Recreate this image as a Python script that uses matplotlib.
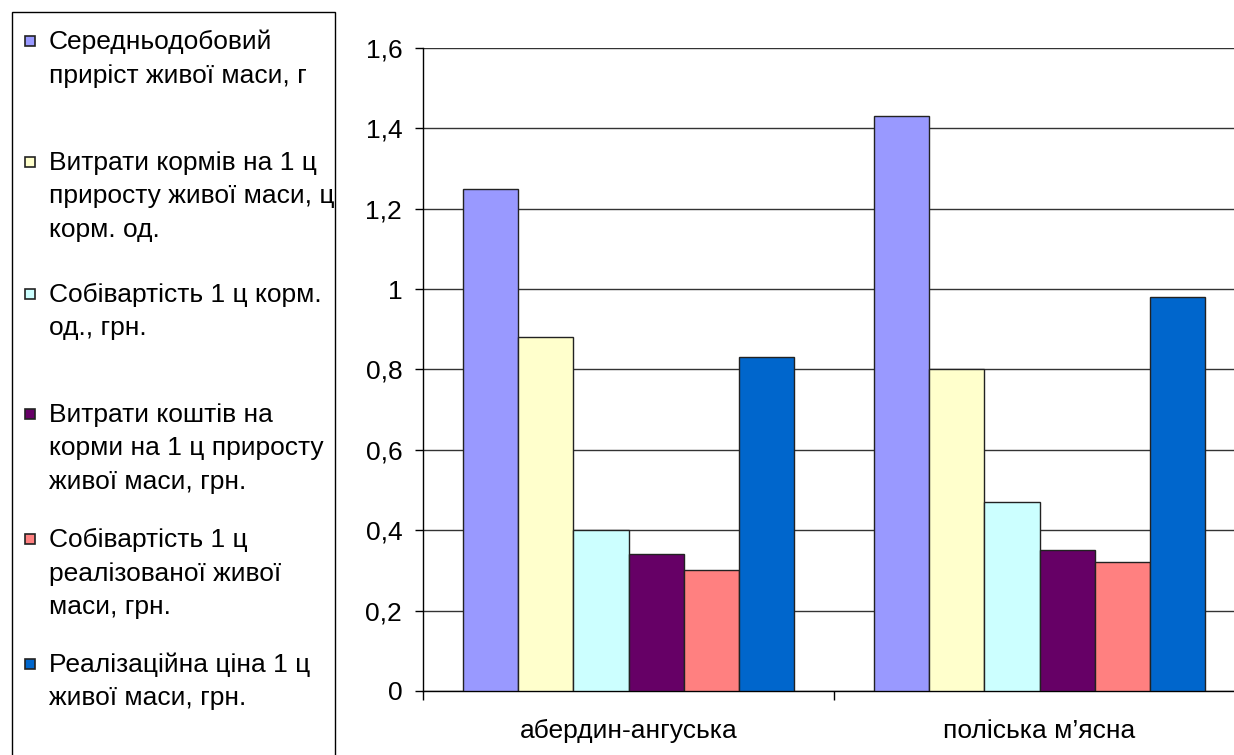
import matplotlib
matplotlib.use("Agg")
import matplotlib.pyplot as plt
from matplotlib.patches import Rectangle
import numpy as np

plt.rcParams['font.family'] = ['Liberation Sans', 'DejaVu Sans']

# Data
breeds = ["абердин-ангуська", "поліська м’ясна"]
series_names = [
    "Середньодобовий\nприріст живої маси, г",
    "Витрати кормів на 1 ц\nприросту живої маси, ц\nкорм. од.",
    "Собівартість 1 ц корм.\nод., грн.",
    "Витрати коштів на\nкорми на 1 ц приросту\nживої маси, грн.",
    "Собівартість 1 ц\nреалізованої живої\nмаси, грн.",
    "Реалізаційна ціна 1 ц\nживої маси, грн.",
]
daily_gain = [1.25, 1.43]
feed_per_gain = [0.88, 0.80]
feed_unit_cost = [0.40, 0.47]
feed_cost_per_gain = [0.34, 0.35]
sold_mass_cost = [0.30, 0.32]
sale_price = [0.83, 0.98]
series_values = [daily_gain, feed_per_gain, feed_unit_cost,
                 feed_cost_per_gain, sold_mass_cost, sale_price]
y_ticks = [0, 0.2, 0.4, 0.6, 0.8, 1.0, 1.2, 1.4, 1.6]
y_tick_labels = ["0", "0,2", "0,4", "0,6", "0,8", "1", "1,2", "1,4", "1,6"]

colors = ["#9999FF", "#FFFFCC", "#CCFFFF", "#660066", "#FF8080", "#0066CC"]

W, H = 1234, 755
FS = 19
fig = plt.figure(figsize=(W / 100, H / 100), dpi=100)


def fx(px):
    return px / W


def fy(py):
    return 1 - py / H


ax_left, ax_right, ax_top, ax_bottom = 423, 1245, 48, 691
ax = fig.add_axes([fx(ax_left), fy(ax_bottom),
                   (ax_right - ax_left) / W, (ax_bottom - ax_top) / H])

x = np.arange(len(breeds))
bar_w = 0.134
n = len(series_values)
for i, (vals, col) in enumerate(zip(series_values, colors)):
    ax.bar(x + (i - (n - 1) / 2) * bar_w, vals, width=bar_w, color=col,
           edgecolor="#222222", linewidth=1.0, zorder=3)

ax.set_xlim(-0.5, len(breeds) - 0.5)
ax.set_ylim(0, 1.6)
ax.set_yticks(y_ticks)
ax.set_yticklabels(y_tick_labels, fontsize=FS)
ax.yaxis.grid(True, color="#333333", linewidth=1.0, zorder=0)
ax.set_axisbelow(True)

# category separators as major ticks, names as minor ticks
ax.set_xticks(np.arange(len(breeds) + 1) - 0.5)
ax.set_xticklabels([])
ax.set_xticks(x, minor=True)
ax.set_xticklabels(breeds, minor=True, fontsize=FS)
ax.tick_params(axis="x", which="major", length=6.5, width=1, color="black", direction="out")
ax.tick_params(axis="x", which="minor", length=0, pad=20)
ax.tick_params(axis="y", length=6, width=1, color="black", pad=9, direction="out")

for s in ["top", "right"]:
    ax.spines[s].set_visible(False)
for s in ["left", "bottom"]:
    ax.spines[s].set_color("black")
    ax.spines[s].set_linewidth(1.0)

# Legend panel
fig.patches.append(Rectangle((fx(12), fy(770)), fx(335 - 12), (770 - 12) / H,
                             transform=fig.transFigure, fill=False,
                             edgecolor="black", linewidth=1.0))
entry_tops = [42, 163, 295, 415, 540, 665]
line_step = 33.5
for name, col, yt in zip(series_names, colors, entry_tops):
    fig.patches.append(Rectangle((fx(25), fy(yt + 4)), fx(10), 10 / H,
                                 transform=fig.transFigure, facecolor=col,
                                 edgecolor="#222222", linewidth=1.2))
    for k, line in enumerate(name.split("\n")):
        fig.text(fx(49), fy(yt + k * line_step), line, fontsize=FS,
                 ha="left", va="center")

fig.savefig("out.png", dpi=100)
